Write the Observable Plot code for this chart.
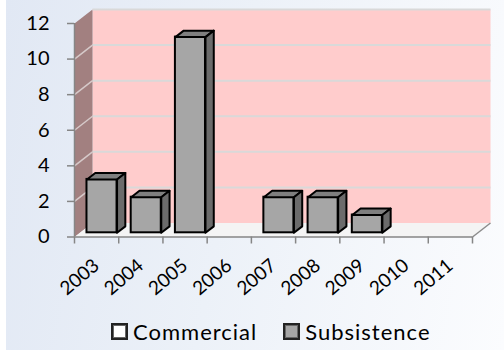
<!DOCTYPE html>
<html><head><meta charset="utf-8">
<script src="https://cdn.jsdelivr.net/npm/d3@7"></script>
<script src="https://cdn.jsdelivr.net/npm/@observablehq/plot@0.6"></script>
<style>
html,body{margin:0;padding:0;background:#fff;}
#wrap{position:relative;width:504px;height:357px;overflow:hidden;background:#fff;font-family:Lato,sans-serif;}
#bg{position:absolute;left:6px;top:0;width:498px;height:350px;background:linear-gradient(100deg,#e1e8f4 0%,#ecf1f8 45%,#fbfcfe 100%);}
#chart{position:absolute;left:0;top:0;}
#legend{position:absolute;top:318px;left:111px;display:flex;align-items:center;font-size:22px;letter-spacing:1px;color:#000;white-space:nowrap;}
.sw{width:13px;height:13px;border:2.5px solid #222;box-shadow:inset 0 0 0 1px #666;margin-right:5px;}
.item{display:flex;align-items:center;}
</style></head>
<body><div id="wrap"><div id="bg"></div><div id="chart"></div>
<div id="legend"></div></div>
<script>
// ---- data ----
const years = ["2003","2004","2005","2006","2007","2008","2009","2010","2011"];
const commercial = [0,0,0,0,0,0,0,0,0];
const subsistence = [3,2,11,0,2,2,1,0,0];
const yTicks = [0,2,4,6,8,10,12];
const seriesNames = ["Commercial","Subsistence"];
const seriesColors = ["#ffffff","#a6a6a6"];

// ---- layout ----
const W = 504, H = 300, ml = 74, mr = 32, mt = 23, mb = 63.5;
const n = years.length, yMax = 12;
const kx = (W - ml - mr) / n, ky = (H - mt - mb) / yMax;
const dX = 18 / kx, dY = 14 / ky;           // wall depth in data units
const t0 = 0.3, t1 = 0.76, gap = 0.16;      // bar depth placement
const P = (x, y, t) => ({x: x + t * dX, y: y + t * dY});

function polys(list) { // list of {id, pts}
  const out = [];
  list.forEach(({id, pts}) => { [...pts, pts[0]].forEach(p => out.push({id, ...p})); });
  return out;
}
const sideWall = polys([{id:"s", pts:[P(0,0,0),P(0,yMax,0),P(0,yMax,1),P(0,0,1)]}]);
const backWall = polys([{id:"b", pts:[P(0,0,1),P(n,0,1),P(n,yMax,1),P(0,yMax,1)]}]);
const floor = polys([{id:"f", pts:[P(0,0,0),P(n,0,0),P(n,0,1),P(0,0,1)]}]);

const bars = years.map((yr, i) => ({yr, i, v: subsistence[i]})).filter(d => d.v > 0);
const fronts = bars.map(d => ({x1: P(d.i+gap,0,t0).x, x2: P(d.i+1-gap,0,t0).x, y1: P(0,0,t0).y, y2: P(0,d.v,t0).y}));
const tops = polys(bars.map(d => ({id:d.yr, pts:[P(d.i+gap,d.v,t0),P(d.i+1-gap,d.v,t0),P(d.i+1-gap,d.v,t1),P(d.i+gap,d.v,t1)]})));
const sides = polys(bars.map(d => ({id:d.yr, pts:[P(d.i+1-gap,0,t0),P(d.i+1-gap,d.v,t0),P(d.i+1-gap,d.v,t1),P(d.i+1-gap,0,t1)]})));

const gridBack = yTicks.filter(v => v > 0).map(v => ({a: P(0,v,1), b: P(n,v,1)}));
const gridSide = yTicks.filter(v => v > 0 && v < yMax).map(v => ({a: P(0,v,0), b: P(0,v,1)}));
const floorEdge = [{a: P(n,0,0), b: P(n,0,1)}];
const labels = years.map((yr, i) => ({x: i + 0.5, yr}));

const chart = Plot.plot({
  width: W, height: H, marginLeft: ml, marginRight: mr, marginTop: mt, marginBottom: mb,
  style: {background: "transparent", fontFamily: "Lato, sans-serif"},
  x: {domain: [0, n], axis: null},
  y: {domain: [0, yMax], axis: null},
  marks: [
    Plot.line(backWall, {x:"x", y:"y", z:"id", fill:"#ffcccc", stroke:"none"}),
    Plot.line(sideWall, {x:"x", y:"y", z:"id", fill:"#a28080", stroke:"none"}),
    Plot.line(floor, {x:"x", y:"y", z:"id", fill:"#f4f4f4", stroke:"none"}),
    Plot.link(gridBack, {x1:d=>d.a.x, y1:d=>d.a.y, x2:d=>d.b.x, y2:d=>d.b.y, stroke:"#d9d9d9", strokeWidth:2}),
    Plot.link(gridSide, {x1:d=>d.a.x, y1:d=>d.a.y, x2:d=>d.b.x, y2:d=>d.b.y, stroke:"#d6c9c9", strokeWidth:1.5}),
    Plot.link(floorEdge, {x1:d=>d.a.x, y1:d=>d.a.y, x2:d=>d.b.x, y2:d=>d.b.y, stroke:"#8c8c8c", strokeWidth:1.5}),
    Plot.ruleX([0], {y1: 0, y2: yMax, stroke:"#868686", strokeWidth:1.5}),
    Plot.ruleY([0], {x1: 0, x2: n, stroke:"#868686", strokeWidth:1.5}),
    Plot.axisY({ticks: yTicks, tickSize: 7, tickPadding: 18, stroke:"#868686", strokeWidth:1.5, fontSize: 20, fill:"#000", tickFormat: d => String(d)}),
    Plot.axisX({ticks: d3.range(n + 1), tickSize: 7, stroke:"#868686", strokeWidth:1.5, tickFormat: () => ""}),
    Plot.text(labels, {x:"x", y:0, text:"yr", rotate:-40, textAnchor:"end", lineAnchor:"middle", dx:0, dy:26, fontSize:19, fill:"#000"}),
    Plot.rect(fronts, {x1:"x1", x2:"x2", y1:"y1", y2:"y2", fill: seriesColors[1], stroke:"#000", strokeWidth:2}),
    Plot.line(tops, {x:"x", y:"y", z:"id", fill:"#7f7f7f", stroke:"#000", strokeWidth:2, strokeLinejoin:"round"}),
    Plot.line(sides, {x:"x", y:"y", z:"id", fill:"#6b6b6b", stroke:"#000", strokeWidth:2, strokeLinejoin:"round"})
  ]
});
document.getElementById("chart").appendChild(chart);

const leg = document.getElementById("legend");
seriesNames.forEach((name, i) => {
  const it = document.createElement("div");
  it.className = "item";
  it.style.marginRight = i === 0 ? "26px" : "0";
  const sw = document.createElement("div");
  sw.className = "sw"; sw.style.background = seriesColors[i];
  const tx = document.createElement("span"); tx.textContent = name;
  it.appendChild(sw); it.appendChild(tx); leg.appendChild(it);
});
</script></body></html>
